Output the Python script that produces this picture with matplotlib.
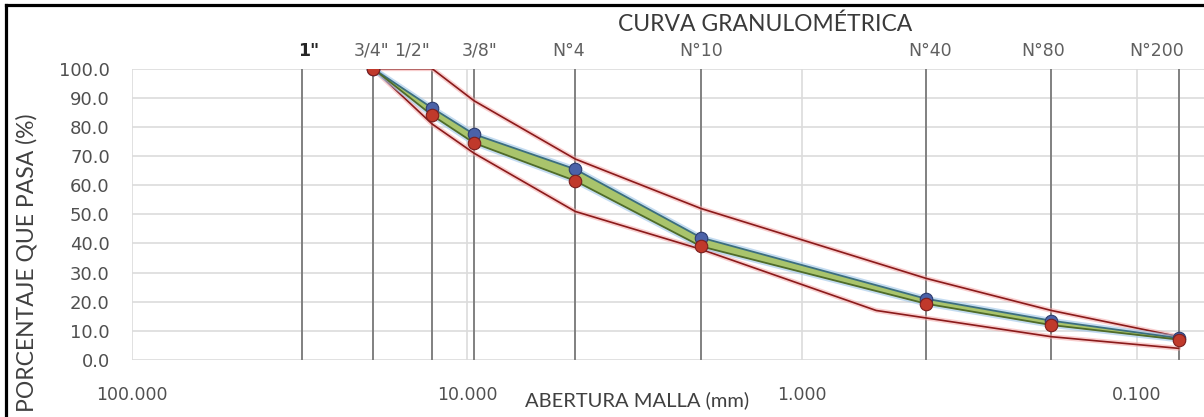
import matplotlib
matplotlib.use("Agg")
import matplotlib.pyplot as plt
from matplotlib.lines import Line2D
from matplotlib.ticker import FixedLocator, FuncFormatter, NullLocator

# ---------------- data ----------------
sieve_labels = ['1"', '3/4"', '1/2"', '3/8"', 'N°4', 'N°10', 'N°40', 'N°80', 'N°200']
sieve_mm = [31.0, 19.05, 12.7, 9.525, 4.75, 2.0, 0.425, 0.18, 0.075]

curve_mm = [19.05, 12.7, 9.525, 4.75, 2.0, 0.425, 0.18, 0.075]
curve_upper_pass = [100.0, 86.5, 77.5, 65.5, 42.0, 21.0, 13.5, 7.5]
curve_lower_pass = [100.0, 84.0, 74.5, 61.5, 39.0, 19.3, 12.0, 7.0]

spec_upper_mm = [19.05, 12.7, 9.525, 4.75, 2.0, 0.425, 0.18, 0.075]
spec_upper_pass = [100, 100, 89, 69, 52, 28, 17, 8]
spec_lower_mm = [19.05, 12.7, 9.525, 4.75, 2.0, 0.6, 0.18, 0.075]
spec_lower_pass = [100, 81, 71, 51, 38, 17, 8, 4]

x_ticks = [100, 10, 1, 0.1]
y_ticks = [0, 10, 20, 30, 40, 50, 60, 70, 80, 90, 100]

title = "CURVA GRANULOMÉTRICA"
x_title = "ABERTURA MALLA (mm)"
y_title = "PORCENTAJE QUE PASA (%)"

# ---------------- layout ----------------
W, H = 1204, 417
fig = plt.figure(figsize=(W / 100, H / 100), dpi=100)
fig.patch.set_facecolor("white")

px_left, px_right, px_top, px_bottom = 132, 1204, 68.7, 360
ax = fig.add_axes([px_left / W, 1 - px_bottom / H,
                   (px_right - px_left) / W, (px_bottom - px_top) / H])
ax.set_xscale("log")
ax.set_xlim(100, 0.063)
ax.set_ylim(0, 100)
for s in ax.spines.values():
    s.set_visible(False)

ax.xaxis.set_major_locator(FixedLocator(x_ticks))
ax.xaxis.set_minor_locator(NullLocator())
ax.xaxis.set_major_formatter(FuncFormatter(lambda v, p: f"{v:.3f}"))
ax.yaxis.set_major_locator(FixedLocator(y_ticks))
ax.yaxis.set_major_formatter(FuncFormatter(lambda v, p: f"{v:.1f}"))
ax.tick_params(axis="both", length=0, colors="#505050")
ax.tick_params(axis="y", pad=16, labelsize=13)
ax.tick_params(axis="x", pad=19, labelsize=12.5)
ax.grid(True, color="#dcdcdc", lw=1.2, zorder=0)
ax.set_axisbelow(True)

# sieve vertical lines and labels
label_dx = [6, -2, -20, 6, -7, 0, 4, -8, -22]
for mm, lab, dx in zip(sieve_mm, sieve_labels, label_dx):
    ax.axvline(mm, color="#808080", lw=1.4, zorder=1)
    bold = lab == '1"'
    ax.annotate(lab, xy=(mm, 100), xycoords=("data", "data"),
                xytext=(dx * 0.72, 6.5), textcoords="offset points",
                ha="center", va="bottom", fontsize=12.5,
                fontweight="bold" if bold else "normal",
                color="#262626" if bold else "#606060",
                family="DejaVu Sans", annotation_clip=False)

# specification limits (red lines with pink glow)
for xs, ys in ((spec_upper_mm, spec_upper_pass), (spec_lower_mm, spec_lower_pass)):
    ax.plot(xs, ys, color="#f4a6a6", lw=3.5, alpha=0.55, zorder=2,
            solid_capstyle="round")
    ax.plot(xs, ys, color="#8b1a1a", lw=1.2, zorder=3)

# grading curve band
ax.plot(curve_mm, curve_upper_pass, color="#9ec5e8", lw=4, alpha=0.6, zorder=3)
ax.plot(curve_mm, curve_lower_pass, color="#9ec5e8", lw=4, alpha=0.6, zorder=3)
ax.fill_between(curve_mm, curve_lower_pass, curve_upper_pass,
                color="#a9c46c", zorder=4, lw=0)
ax.plot(curve_mm, curve_upper_pass, color="#3b6e7e", lw=1.3, zorder=5)
ax.plot(curve_mm, curve_lower_pass, color="#4f6b2a", lw=1.3, zorder=5)

ax.plot(curve_mm, curve_upper_pass, ls="none", marker="o", ms=9,
        mfc="#4b62a8", mec="#2c3c70", mew=0.8, zorder=6)
ax.plot(curve_mm, curve_lower_pass, ls="none", marker="o", ms=9,
        mfc="#c0392b", mec="#7b1e1e", mew=0.8, zorder=7)

# titles
fig.text(765 / W, 1 - 24 / H, title, ha="center", va="center",
         fontsize=16.5, family="Lato", color="#3a3a3a")
fig.text(637 / W, 1 - 400 / H, x_title, ha="center", va="center",
         fontsize=14.5, family="Lato", color="#404040")
fig.text(27 / W, 1 - 263 / H, y_title, ha="center", va="center",
         rotation=90, fontsize=16.5, family="Lato", color="#404040")

# outer frame (left and top edges visible)
fig.add_artist(Line2D([5.5 / W, 5.5 / W], [0, 1 - 4.5 / H],
                      transform=fig.transFigure, color="black", lw=2.3))
fig.add_artist(Line2D([5.5 / W, 1], [1 - 4.5 / H, 1 - 4.5 / H],
                      transform=fig.transFigure, color="black", lw=2.3))

fig.savefig("out.png", dpi=100)
